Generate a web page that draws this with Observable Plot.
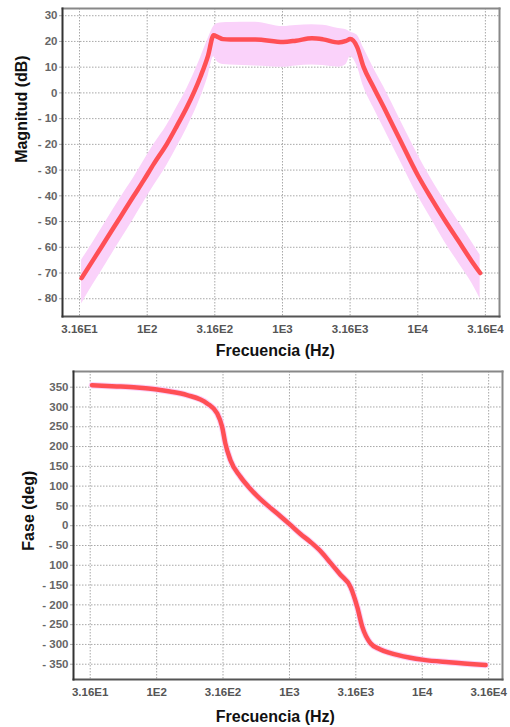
<!DOCTYPE html>
<html>
<head>
<meta charset="utf-8">
<script src="https://cdn.jsdelivr.net/npm/d3@7"></script>
<script src="https://cdn.jsdelivr.net/npm/@observablehq/plot@0.6"></script>
<style>
  body { margin: 0; background: #fff; }
  #chart svg { display: block; }
</style>
</head>
<body>
<div id="chart"></div>
<script>
// ---- data (log10 of frequency in Hz) ----
const xTickValues = [31.6, 100, 316, 1000, 3160, 10000, 31600];
const xTickLabels = ["3.16E1", "1E2", "3.16E2", "1E3", "3.16E3", "1E4", "3.16E4"];

const magLogF = [1.515, 1.6, 1.7, 1.8, 1.9, 1.974, 2.05, 2.147, 2.22, 2.295, 2.393, 2.45, 2.491, 2.52, 2.56, 2.615, 2.8, 3.006, 3.1, 3.218, 3.3, 3.415, 3.47, 3.501, 3.551, 3.599, 3.67, 3.747, 3.87, 4.0, 4.1, 4.2, 4.3, 4.4, 4.461];
const magDb   = [-72, -65, -56.7, -48.4, -40.1, -34, -27.5, -19.7, -12.8, -5.4, 6.2, 14.5, 22.4, 21.8, 20.9, 20.8, 20.8, 19.8, 20.3, 21.2, 20.8, 19.6, 20.2, 20.9, 17.9, 10.1, 2.5, -5.4, -18.4, -32, -41, -49.5, -57.5, -65.5, -70];
const magHigh = [-65, -58, -49.5, -41, -33, -26.5, -20, -12.5, -5.5, 1.8, 13.5, 21, 25.8, 27, 27.3, 27.4, 27.5, 25.8, 26.2, 26.5, 26.3, 25, 24.5, 23.7, 22.5, 17.5, 10, 2.5, -10.5, -24, -33.5, -42, -50, -58, -63];
const magLow  = [-82, -74.5, -66, -57.5, -49, -42.5, -36, -28, -21, -13.5, -2, 6.5, 14, 12, 11, 10.8, 10.5, 10, 10.5, 10.8, 10.6, 10, 11, 14, 10.5, 2.5, -5.5, -13.5, -26.5, -40, -49, -58, -66, -74, -80];

const magTickValues = [-80, -70, -60, -50, -40, -30, -20, -10, 0, 10, 20, 30];
const magTickLabels = ["- 80", "- 70", "- 60", "- 50", "- 40", "- 30", "- 20", "- 10", "0", "10", "20", "30"];

const phaseLogF = [1.513, 1.7, 1.85, 2.003, 2.1, 2.229, 2.38, 2.455, 2.493, 2.517, 2.555, 2.63, 2.706, 2.781, 2.857, 2.932, 3.007, 3.083, 3.158, 3.233, 3.309, 3.384, 3.46, 3.51, 3.548, 3.61, 3.68, 3.761, 3.9, 4.012, 4.2, 4.477];
const phaseDeg  = [355, 352, 349, 344, 339, 330, 309, 284, 250, 208, 166, 124, 93, 67, 45, 24, 2, -21, -41, -64, -94, -124, -155, -205, -255, -297, -312, -322, -333, -339, -345, -352];

const phaseTickValues = [-350, -300, -250, -200, -150, -100, -50, 0, 50, 100, 150, 200, 250, 300, 350];
const phaseTickLabels = ["- 350", "- 300", "- 250", "- 200", "- 150", "100", "- 50", "0", "50", "100", "150", "200", "250", "300", "350"];

// ---- tables ----
const magData = magLogF.map((l, i) => ({f: Math.pow(10, l), y: magDb[i], hi: magHigh[i], lo: magLow[i]}));
const phaseData = phaseLogF.map((l, i) => ({f: Math.pow(10, l), y: phaseDeg[i]}));

const xFmt = d => xTickLabels[xTickValues.indexOf(d)];
const fontFam = "'Liberation Sans', Arial, sans-serif";
const lineColor = "#ff4f55";
const bandColor = "#fad2fa";
const gridStyle = {stroke: "#999", strokeOpacity: 0.85, strokeDasharray: "1.5,1.5", strokeWidth: 1};
const tickText = {fontSize: 11.5, fontWeight: "bold", fontFamily: fontFam};
const titleText = {fontSize: 16, fontWeight: "bold", fill: "#111", fontFamily: fontFam, lineAnchor: "middle", textAnchor: "middle"};

function frameMarks() {
  return [
    Plot.frame({anchor: "top", stroke: "#888", strokeWidth: 2}),
    Plot.frame({anchor: "right", stroke: "#888", strokeWidth: 2}),
    Plot.frame({anchor: "bottom", stroke: "#555", strokeWidth: 2}),
    Plot.frame({anchor: "left", stroke: "#333", strokeWidth: 2})
  ];
}

const xDomain = [Math.pow(10, 1.374), Math.pow(10, 4.604)];

const magChart = Plot.plot({
  width: 510, height: 360,
  marginLeft: 62, marginRight: 11, marginTop: 8, marginBottom: 44,
  style: {fontFamily: fontFam, background: "#fff"},
  x: {type: "log", domain: xDomain},
  y: {domain: [-86.9, 32.8]},
  marks: [
    Plot.gridX(xTickValues, gridStyle),
    Plot.gridY(magTickValues, gridStyle),
    Plot.areaY(magData, {x: "f", y1: "lo", y2: "hi", fill: bandColor, curve: "monotone-x"}),
    Plot.line(magData, {x: "f", y: "y", stroke: lineColor, strokeWidth: 4.5, curve: "monotone-x"}),
    Plot.axisX({ticks: xTickValues, tickFormat: xFmt, tickSize: 0, tickPadding: 8, label: null, fill: "#555", ...tickText}),
    Plot.axisY({ticks: magTickValues, tickFormat: d => magTickLabels[magTickValues.indexOf(d)], tickSize: 3, tickPadding: 2, label: null, stroke: "#aaa", fill: "#666", ...tickText}),
    ...frameMarks(),
    Plot.text(["Frecuencia (Hz)"], {frameAnchor: "bottom", x: [885], dy: 34, ...titleText}),
    Plot.text(["Magnitud (dB)"], {frameAnchor: "left", y: [-6.3], dx: -41, rotate: -90, ...titleText})
  ]
});

const phaseChart = Plot.plot({
  width: 510, height: 367,
  marginLeft: 73, marginRight: 8, marginTop: 11, marginBottom: 48,
  style: {fontFamily: fontFam, background: "#fff"},
  x: {type: "log", domain: xDomain},
  y: {domain: [-388.6, 389.6]},
  marks: [
    Plot.gridX(xTickValues, gridStyle),
    Plot.gridY(phaseTickValues, gridStyle),
    Plot.line(phaseData, {x: "f", y: "y", stroke: bandColor, strokeWidth: 6.5, curve: "monotone-x"}),
    Plot.line(phaseData, {x: "f", y: "y", stroke: lineColor, strokeWidth: 4.5, curve: "monotone-x"}),
    Plot.axisX({ticks: xTickValues, tickFormat: xFmt, tickSize: 0, tickPadding: 8, label: null, fill: "#555", ...tickText}),
    Plot.axisY({ticks: phaseTickValues, tickFormat: d => phaseTickLabels[phaseTickValues.indexOf(d)], tickSize: 3, tickPadding: 2, label: null, stroke: "#aaa", fill: "#666", ...tickText}),
    ...frameMarks(),
    Plot.text(["Frecuencia (Hz)"], {frameAnchor: "bottom", x: [783], dy: 37, ...titleText}),
    Plot.text(["Fase (deg)"], {frameAnchor: "left", y: [38], dx: -45, rotate: -90, ...titleText})
  ]
});

document.getElementById("chart").append(magChart, phaseChart);
</script>
</body>
</html>
